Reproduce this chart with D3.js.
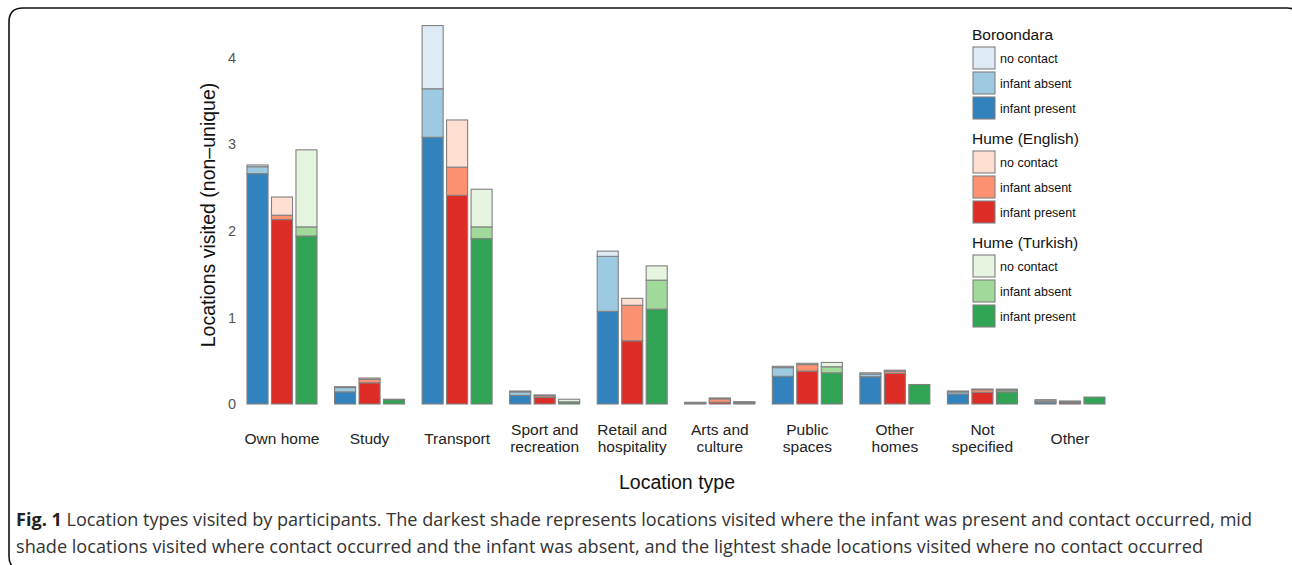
<!DOCTYPE html>
<html><head><meta charset="utf-8">
<script src="https://cdn.jsdelivr.net/npm/d3@7"></script>
<style>html,body{margin:0;padding:0;background:#fff;}svg{display:block;}</style>
</head><body>
<svg id="chart" width="1292" height="565"></svg>
<script>
const categories = ["Own home","Study","Transport","Sport and recreation","Retail and hospitality","Arts and culture","Public spaces","Other homes","Not specified","Other"];
const categoryLines = [["Own home"],["Study"],["Transport"],["Sport and","recreation"],["Retail and","hospitality"],["Arts and","culture"],["Public","spaces"],["Other","homes"],["Not","specified"],["Other"]];
const seriesNames = ["Boroondara","Hume (English)","Hume (Turkish)"];
const stackLevels = ["infant present","infant absent","no contact"];
const legendLevels = ["no contact","infant absent","infant present"];

const boroondaraPresent = [2.66,0.14,3.08,0.10,1.07,0.005,0.32,0.315,0.115,0.02];
const boroondaraAbsent  = [0.08,0.05,0.56,0.04,0.635,0.005,0.10,0.03,0.025,0.015];
const boroondaraNoContact = [0.02,0.01,0.73,0.01,0.06,0.01,0.015,0.015,0.01,0.015];

const humeEnPresent = [2.13,0.245,2.41,0.075,0.73,0.02,0.38,0.355,0.135,0.015];
const humeEnAbsent  = [0.05,0.04,0.325,0.02,0.41,0.04,0.075,0.025,0.03,0.01];
const humeEnNoContact = [0.21,0.015,0.545,0.01,0.08,0.01,0.015,0.01,0.008,0.01];

const humeTrPresent = [1.94,0.05,1.91,0.02,1.095,0.01,0.36,0.225,0.14,0.08];
const humeTrAbsent  = [0.105,0,0.135,0.005,0.335,0.005,0.07,0,0.02,0];
const humeTrNoContact = [0.89,0.005,0.435,0.03,0.165,0.012,0.05,0,0.012,0];

const yTicks = [0,1,2,3,4];

const palette = {
  "Boroondara":     {"no contact":"#deebf7","infant absent":"#9ecae1","infant present":"#3182bd"},
  "Hume (English)": {"no contact":"#fee0d2","infant absent":"#fc9272","infant present":"#de2d26"},
  "Hume (Turkish)": {"no contact":"#e5f5e0","infant absent":"#a1d99b","infant present":"#31a354"}
};
const seriesData = {
  "Boroondara": [boroondaraPresent, boroondaraAbsent, boroondaraNoContact],
  "Hume (English)": [humeEnPresent, humeEnAbsent, humeEnNoContact],
  "Hume (Turkish)": [humeTrPresent, humeTrAbsent, humeTrNoContact]
};

const svg = d3.select("#chart");
const FONT = "'Liberation Sans', Arial, Helvetica, sans-serif";

// frame
const fx = 9, fy = 8, fw = 1292, fh = 562, r = 14;
svg.append("path")
  .attr("d", `M${fx},${fy+r} Q${fx},${fy} ${fx+r},${fy} L${fx+fw-r},${fy} Q${fx+fw},${fy} ${fx+fw},${fy+r} L${fx+fw},${fy+fh-r} Q${fx+fw},${fy+fh} ${fx+fw-r},${fy+fh} L${fx+r},${fy+fh} Q${fx},${fy+fh} ${fx},${fy+fh-r} Z`)
  .attr("fill","none").attr("stroke","#111").attr("stroke-width",1.6);

const y = d3.scaleLinear().domain([0,4]).range([404,57.6]);
const xc = d3.scalePoint().domain(categories).range([282,1070]);
const xs = d3.scaleBand().domain(seriesNames).range([-35,35]).paddingInner(0.14);

// y axis (labels only)
const yAxis = d3.axisLeft(y).tickValues(yTicks).tickSize(0).tickPadding(0).tickFormat(d3.format("d"));
const gy = svg.append("g").attr("transform","translate(236,0)").call(yAxis);
gy.select(".domain").remove();
gy.selectAll("text").attr("font-family",FONT).attr("font-size",14.5).attr("fill","#555");

// x axis labels
const gx = svg.append("g");
categories.forEach((c,i) => {
  const lines = categoryLines[i];
  const t = gx.append("text").attr("x", xc(c)).attr("text-anchor","middle")
    .attr("font-family",FONT).attr("font-size",15.5).attr("fill","#222");
  if (lines.length === 1) {
    t.attr("y",444).text(lines[0]);
  } else {
    t.append("tspan").attr("x",xc(c)).attr("y",435).text(lines[0]);
    t.append("tspan").attr("x",xc(c)).attr("y",452).text(lines[1]);
  }
});

// bars
const gb = svg.append("g");
seriesNames.forEach(s => {
  const arrs = seriesData[s];
  categories.forEach((c,i) => {
    let base = 0;
    stackLevels.forEach((lvl,k) => {
      const v = arrs[k][i];
      if (v > 0) {
        gb.append("rect")
          .attr("x", xc(c) + xs(s))
          .attr("width", xs.bandwidth())
          .attr("y", y(base + v))
          .attr("height", y(base) - y(base + v))
          .attr("fill", palette[s][lvl])
          .attr("stroke", "#808080").attr("stroke-width", 1.1);
      }
      base += v;
    });
  });
});

// axis titles
svg.append("text").attr("transform","translate(215,215) rotate(-90)").attr("text-anchor","middle")
  .attr("font-family",FONT).attr("font-size",19.5).attr("fill","#111").text("Locations visited (non\u2013unique)");
svg.append("text").attr("x",677).attr("y",489).attr("text-anchor","middle")
  .attr("font-family",FONT).attr("font-size",19.5).attr("fill","#111").text("Location type");

// legend
const lg = svg.append("g");
const legendTop = [40, 144, 248];
seriesNames.forEach((s,si) => {
  const top = legendTop[si];
  lg.append("text").attr("x",972).attr("y",top).attr("font-family",FONT).attr("font-size",15.5).attr("fill","#111").text(s);
  legendLevels.forEach((lvl,k) => {
    const ky = top + 7 + k*25;
    lg.append("rect").attr("x",973).attr("y",ky).attr("width",22).attr("height",22)
      .attr("fill",palette[s][lvl]).attr("stroke","#808080").attr("stroke-width",1.1);
    lg.append("text").attr("x",1000).attr("y",ky+15.5).attr("font-family",FONT).attr("font-size",12.5).attr("fill","#111").text(lvl);
  });
});

// caption
const CAP = "'Open Sans', 'Noto Sans', sans-serif";
const c1 = svg.append("text").attr("x",16).attr("y",526).attr("font-family",CAP).attr("font-size",18).attr("fill","#333")
  .attr("textLength",1236).attr("lengthAdjust","spacingAndGlyphs");
c1.append("tspan").attr("font-weight","bold").attr("fill","#222").text("Fig. 1");
c1.append("tspan").text(" Location types visited by participants. The darkest shade represents locations visited where the infant was present and contact occurred, mid");
svg.append("text").attr("x",16).attr("y",553).attr("font-family",CAP).attr("font-size",18).attr("fill","#333")
  .attr("textLength",1187).attr("lengthAdjust","spacingAndGlyphs")
  .text("shade locations visited where contact occurred and the infant was absent, and the lightest shade locations visited where no contact occurred");
</script>
</body></html>
